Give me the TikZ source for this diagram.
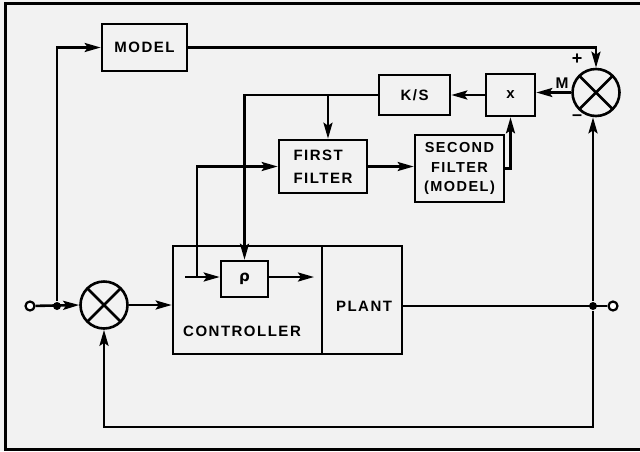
\documentclass[tikz,border=0pt]{standalone}
\usepackage{fontspec}
\setmainfont{Liberation Sans}[LetterSpace=10,UprightFont=* Bold]
\usetikzlibrary{arrows.meta}
\begin{document}
\begin{tikzpicture}[x=1pt,y=-1pt,
  line width=2.6pt,
  font=\fontsize{15}{23}\selectfont,
  >={Stealth[length=16pt,width=9pt,inset=3pt]},
  box/.style={draw,rectangle,inner sep=0pt,align=center},
  sumnode/.style={draw,circle,minimum size=47pt,inner sep=0pt,
    path picture={\draw[line width=2.6pt] (path picture bounding box.north west) -- (path picture bounding box.south east)
      (path picture bounding box.north east) -- (path picture bounding box.south west);}},
  port/.style={draw,circle,fill=white,minimum size=9pt,inner sep=0pt,line width=2.2pt},
  jdot/.style={fill,circle,minimum size=8pt,inner sep=0pt},
  lbl/.style={inner sep=0pt}]
\useasboundingbox (0,0) rectangle (640,451);
\fill[white!95!black] (0,0) rectangle (640,451);
% frame
\draw[line width=3pt] (645,3) -- (5,3) -- (5,449) -- (645,449);
% blocks
\node[box,minimum width=85pt,minimum height=47pt] (model) at (144.5,47.5) {MODEL};
\node[box,minimum width=71pt,minimum height=40pt] (ks) at (414.5,95) {K/S};
\node[box,minimum width=49pt,minimum height=42pt] (xbox) at (510.5,95) {x};
\node[sumnode] (sum1) at (596,92.5) {};
\node[box,minimum width=88pt,minimum height=53pt,align=left] (ff) at (323,166.5) {FIRST\\FILTER};
\node[box,minimum width=89pt,minimum height=67pt,font=\fontsize{14.5}{19.5}\selectfont] (sf) at (459.5,168.5) {SECOND\\FILTER\\(MODEL)};
\node[sumnode] (sum2) at (104,305) {};
\node[box,minimum width=149pt,minimum height=108pt] (ctrl) at (247.5,300) {};
\node[lbl] (ctrltxt) at (242,331) {CONTROLLER};
\node[box,minimum width=80pt,minimum height=108pt] (plant) at (362,300) {};
\node[lbl] (planttxt) at (364,306) {PLANT};
\node[box,minimum width=47pt,minimum height=36pt] (pbox) at (244.5,279) {\fontspec{DejaVu Sans Bold}ρ};
% ports and junctions
\node[port] (in) at (30,306) {};
\node[jdot] (jin) at (57,306) {};
\node[port] (out) at (613,306) {};
\node[jdot] (jout) at (593,306) {};
\coordinate (b1) at (328,95);
\coordinate (c0) at (185,277);
\coordinate (c1) at (197,277);
\coordinate (pout) at (314,277);
\coordinate (fb) at (593,427);
% signs
\node[lbl,font=\fontsize{18}{18}\selectfont] (plus) at (577,59) {+};
\node[lbl,font=\fontsize{18}{18}\selectfont] (minus) at (577,118) {–};
\node[lbl,font=\fontsize{15.5}{15}\selectfont] (mlab) at (562,83) {M};
% connectors
\draw[->] (in) -- (sum2.west);
\draw[->] (jin) |- (model.west);
\draw[->] (model.east) -| (sum1.north);
\draw[->] (sum1.west) -- (sum1.west -| xbox.east);
\draw[->] (xbox.west) -- (xbox.west -| ks.east);
\draw[->] (ks.west) -| (pbox.north);
\draw[->] (b1) -- (b1 |- ff.north);
\draw[->] (ff.east) -- (ff.east -| sf.west);
\draw[->] (sf.east) -| (xbox.south);
\draw[->] (c1) |- (ff.west);
\draw[->] (c0) -- (c0 -| pbox.west);
\draw[->] (pbox.east |- pout) -- (pout);
\draw[->] (sum2.east) -- (sum2.east -| ctrl.west);
\draw (plant.east |- out) -- (out.west);
\draw[->] (jout) -- (jout |- sum1.south);
\draw[->] (jout) -- (fb) -| (sum2.south);
\end{tikzpicture}
\end{document}
